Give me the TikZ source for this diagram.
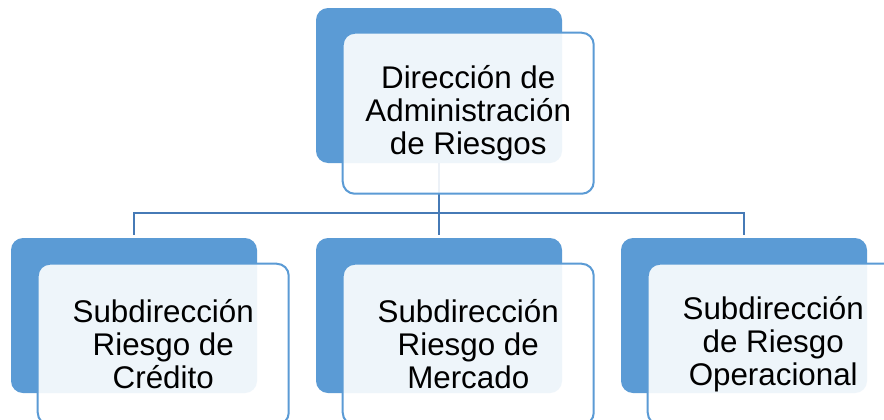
\documentclass[tikz,border=0pt]{standalone}
\usepackage{fontspec}
\setmainfont{Liberation Sans}
\usetikzlibrary{positioning}
\definecolor{boxblue}{RGB}{91,155,213}
\definecolor{linkblue}{RGB}{70,122,182}
\tikzset{backbox/.style = {fill=boxblue, rounded corners=9pt, inner sep=0pt,
                           minimum width=184.5pt, minimum height=116.25pt},
         frontbox/.style = {draw=boxblue, line width=1.5pt, fill=white, fill opacity=0.9,
                            text opacity=1, rounded corners=9pt, inner sep=0pt,
                            minimum width=188.25pt, minimum height=120.75pt, align=center,
                            font=\fontsize{23.5pt}{25pt}\selectfont},
         link/.style = {draw=linkblue, line width=1.5pt}}

\begin{document}
\begin{tikzpicture}[x=0.75pt, y=0.75pt]
  \useasboundingbox (0,0) rectangle (884,419);
  \clip (0,0) rectangle (884,419);
  \fill[white] (0,0) rectangle (884,419);
  \node[backbox] (dirB) at (439,333.5) {};
  \node[backbox] (credB) at (134,103.5) {};
  \node[backbox] (mercB) at (439,103.5) {};
  \node[backbox] (operB) at (744,103.5) {};
  \coordinate (bus) at (0,206);
  \draw[link] (dirB.south) -- ([yshift=2.25pt]mercB.north);
  \draw[link] ([yshift=2.25pt]credB.north) |- (bus -| operB.north) -- ([yshift=2.25pt]operB.north);
  \node[frontbox, below right=18pt and 19.5pt of dirB.north west] (dirF)
    {Dirección de\\Administración\\de Riesgos};
  \node[frontbox, below right=18.75pt and 19.5pt of credB.north west] (credF)
    {Subdirección\\Riesgo de\\Crédito};
  \node[frontbox, below right=18.75pt and 19.5pt of mercB.north west] (mercF)
    {Subdirección\\Riesgo de\\Mercado};
  \node[frontbox, below right=18.75pt and 19.5pt of operB.north west] (operF)
    {Subdirección\\de Riesgo\\Operacional};
\end{tikzpicture}
\end{document}
